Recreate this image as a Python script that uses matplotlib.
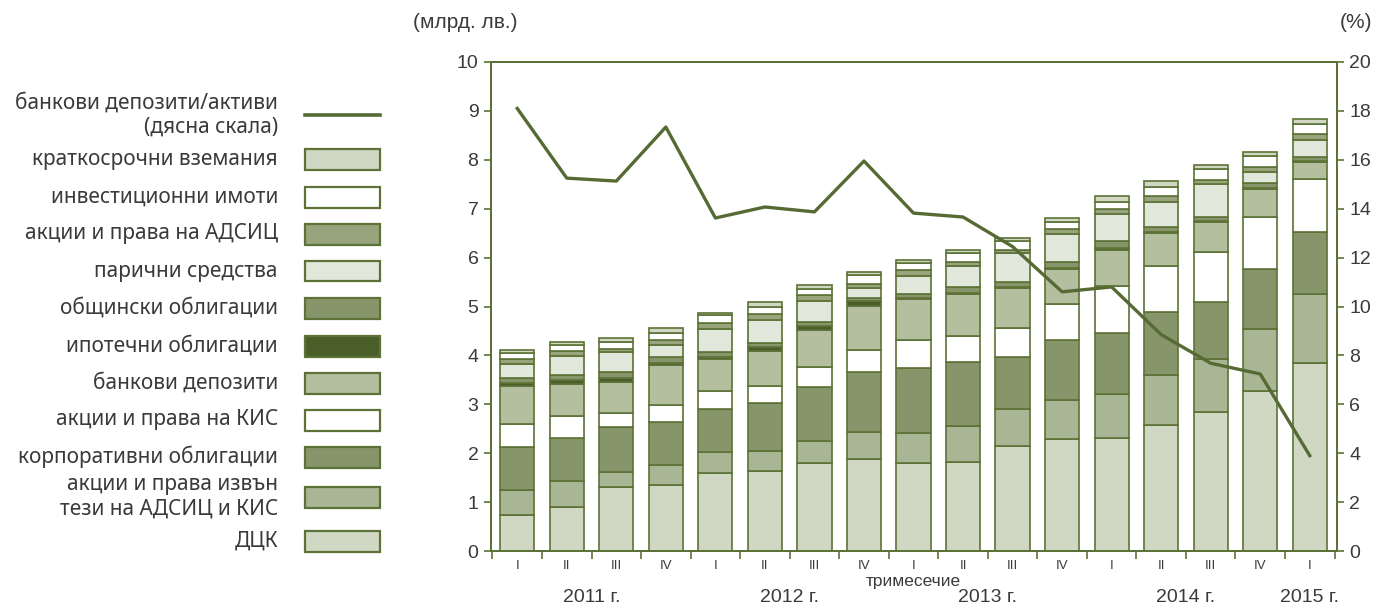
import numpy as np
import matplotlib
matplotlib.use("Agg")
import matplotlib.pyplot as plt
from matplotlib.patches import Rectangle
from matplotlib.lines import Line2D
from matplotlib.ticker import MultipleLocator, FixedLocator

quarters = ['I', 'II', 'III', 'IV', 'I', 'II', 'III', 'IV', 'I', 'II', 'III', 'IV',
            'I', 'II', 'III', 'IV', 'I']
years = ['2011 г.', '2012 г.', '2013 г.', '2014 г.', '2015 г.']
year_pos = [1.5, 5.5, 9.5, 13.5, 16]

# bln BGN, stacked from bottom
dck = [0.73, 0.89, 1.31, 1.34, 1.60, 1.64, 1.79, 1.89, 1.79, 1.83, 2.15, 2.30, 2.32, 2.58, 2.84, 3.28, 3.84]
izvan = [0.52, 0.55, 0.31, 0.42, 0.42, 0.41, 0.46, 0.55, 0.62, 0.73, 0.75, 0.79, 0.90, 1.02, 1.09, 1.26, 1.42]
korp = [0.87, 0.88, 0.92, 0.88, 0.88, 0.97, 1.10, 1.23, 1.33, 1.30, 1.06, 1.22, 1.23, 1.29, 1.16, 1.23, 1.26]
kis = [0.48, 0.44, 0.29, 0.35, 0.38, 0.35, 0.42, 0.45, 0.57, 0.54, 0.61, 0.74, 0.96, 0.94, 1.03, 1.07, 1.09]
bank_dep = [0.77, 0.65, 0.63, 0.81, 0.64, 0.72, 0.74, 0.89, 0.84, 0.85, 0.80, 0.71, 0.75, 0.68, 0.61, 0.56, 0.35]
ipot = [0.06, 0.09, 0.08, 0.04, 0.05, 0.08, 0.09, 0.11, 0.02, 0.02, 0.02, 0.02, 0.04, 0.02, 0.02, 0.02, 0.02]
obsht = [0.10, 0.10, 0.13, 0.12, 0.09, 0.08, 0.09, 0.05, 0.09, 0.12, 0.12, 0.12, 0.13, 0.10, 0.09, 0.10, 0.08]
parichni = [0.29, 0.39, 0.39, 0.25, 0.48, 0.47, 0.43, 0.20, 0.37, 0.44, 0.58, 0.58, 0.56, 0.51, 0.67, 0.24, 0.35]
adsic = [0.11, 0.09, 0.07, 0.10, 0.13, 0.12, 0.11, 0.10, 0.12, 0.09, 0.07, 0.10, 0.10, 0.11, 0.08, 0.10, 0.11]
invest = [0.11, 0.13, 0.14, 0.15, 0.15, 0.14, 0.12, 0.17, 0.13, 0.18, 0.18, 0.15, 0.15, 0.20, 0.22, 0.22, 0.21]
kratko = [0.08, 0.07, 0.08, 0.11, 0.05, 0.11, 0.09, 0.06, 0.08, 0.06, 0.07, 0.09, 0.11, 0.12, 0.08, 0.07, 0.10]

# bank deposits / assets, %
dep_ratio = [18.1, 15.25, 15.13, 17.34, 13.62, 14.07, 13.87, 15.95, 13.82, 13.66, 12.45,
             10.6, 10.8, 8.85, 7.68, 7.24, 3.9]

layers = [
    (dck, '#d0d8c4', 'ДЦК'),
    (izvan, '#a9b695', 'акции и права извън\nтези на АДСИЦ и КИС'),
    (korp, '#87956a', 'корпоративни облигации'),
    (kis, '#ffffff', 'акции и права на КИС'),
    (bank_dep, '#b4bfa0', 'банкови депозити'),
    (ipot, '#4a5e2a', 'ипотечни облигации'),
    (obsht, '#87956a', 'общински облигации'),
    (parichni, '#e2e7dc', 'парични средства'),
    (adsic, '#97a47c', 'акции и права на АДСИЦ'),
    (invest, '#ffffff', 'инвестиционни имоти'),
    (kratko, '#d0d8c4', 'краткосрочни вземания'),
]

edge = '#5c7236'
line_col = '#566b34'
txt = '#3a3a3a'
narrow = ['Liberation Sans', 'DejaVu Sans']
legend_font = ['Noto Sans', 'DejaVu Sans']

fig = plt.figure(figsize=(13.85, 6.05), dpi=100)
ax = fig.add_axes([491 / 1385, 1 - 551 / 605, (1337 - 491) / 1385, (551 - 62) / 605])

x = np.arange(len(quarters))
bottom = np.zeros(len(x))
for vals, col, lab in layers:
    ax.bar(x, vals, width=0.69, bottom=bottom, color=col, edgecolor=edge, linewidth=1.2, zorder=2)
    bottom += np.array(vals)

ax.set_xlim(-0.53, 16.55)
ax.set_ylim(0, 10)
ax.yaxis.set_major_locator(MultipleLocator(1))
ax.set_xticks([])
ax.xaxis.set_minor_locator(FixedLocator(np.arange(-0.5, 17, 1)))
ax.tick_params(axis='x', which='minor', length=6, width=1.2, color=edge, direction='out')
ax.tick_params(axis='y', length=5, width=1.2, color=edge, labelcolor=txt, labelsize=14, pad=4)
for lab in ax.get_yticklabels():
    lab.set_family(narrow)
for s in ax.spines.values():
    s.set_color(edge)
    s.set_linewidth(1.4)

for i, q in enumerate(quarters):
    ax.text(i, -0.3, q, ha='center', va='center', fontsize=9.5, color=txt, family=narrow)
ax.text(8, -0.62, 'тримесечие', ha='center', va='center', fontsize=12.5, color=txt, family=narrow)
for yp, yl in zip(year_pos, years):
    ax.text(yp, -0.95, yl, ha='center', va='center', fontsize=14, color=txt, family=narrow)

ax2 = ax.twinx()
ax2.plot(x, dep_ratio, color=line_col, linewidth=2.4, zorder=3)
ax2.set_ylim(0, 20)
ax2.yaxis.set_major_locator(MultipleLocator(2))
ax2.tick_params(axis='y', length=5, width=1.2, color=edge, labelcolor=txt, labelsize=14, pad=4)
for lab in ax2.get_yticklabels():
    lab.set_family(narrow)
for s in ax2.spines.values():
    s.set_color(edge)
    s.set_linewidth(1.4)

fig.text(465 / 1385, 1 - 22 / 605, '(млрд. лв.)', ha='center', va='center', fontsize=15,
         color=txt, family=narrow)
fig.text(1356 / 1385, 1 - 22 / 605, '(%)', ha='center', va='center', fontsize=15,
         color=txt, family=narrow)

# legend, drawn by hand to the left of the plot
W, H = 1385, 605
fig.add_artist(Line2D([305 / W, 380 / W], [1 - 115 / H, 1 - 115 / H], color=line_col, linewidth=2.6))
fig.text(278 / W, 1 - 115 / H, 'банкови депозити/активи\n(дясна скала)', ha='right', va='center',
         fontsize=15, color=txt, family=legend_font, linespacing=1.2, multialignment='right')
ys = [160, 197, 234, 271, 308, 346, 383, 420, 457, 497, 541]
for (vals, col, lab), yc in zip(layers[::-1], ys):
    fig.add_artist(Rectangle((305 / W, 1 - (yc + 10.5) / H), 75 / W, 21 / H,
                             facecolor=col, edgecolor=edge, linewidth=1.6, transform=fig.transFigure))
    fig.text(278 / W, 1 - yc / H, lab, ha='right', va='center', fontsize=15, color=txt,
             family=legend_font, linespacing=1.2, multialignment='right')

fig.savefig('out.png', dpi=100)
